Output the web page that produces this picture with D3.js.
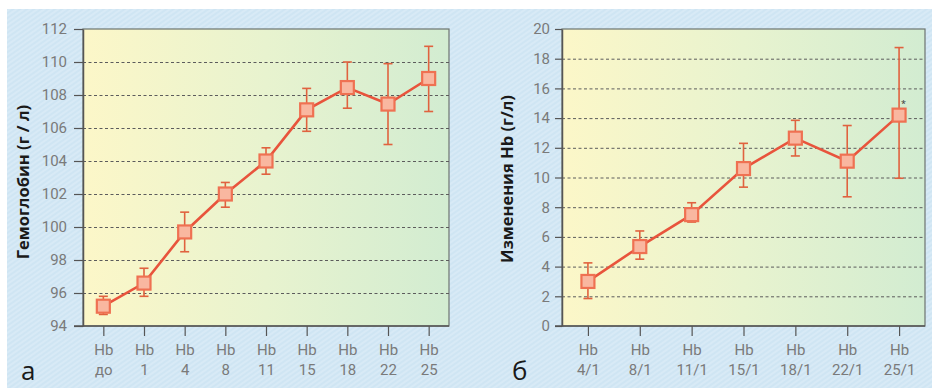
<!DOCTYPE html>
<html>
<head>
<meta charset="utf-8">
<script src="https://cdn.jsdelivr.net/npm/d3@7"></script>
<style>
  body { margin: 0; background: #fff; }
  svg { display: block; font-family: 'Open Sans', sans-serif; }
</style>
</head>
<body>
<div id="chart"></div>
<script>
// panel а: hemoglobin by day
const catsA = ['до', '1', '4', '8', '11', '15', '18', '22', '25']
const meanA = [95.2, 96.6, 99.7, 102.0, 104.0, 107.1, 108.45, 107.45, 109.0]
const lowA = [94.7, 95.8, 98.5, 101.2, 103.2, 105.8, 107.2, 105.0, 107.0]
const highA = [95.8, 97.5, 100.9, 102.7, 104.8, 108.4, 110.0, 109.9, 110.95]
const ticksA = [94, 96, 98, 100, 102, 104, 106, 108, 110, 112]

// panel б: change of Hb
const catsB = ['4/1', '8/1', '11/1', '15/1', '18/1', '22/1', '25/1']
const meanB = [3.0, 5.35, 7.5, 10.6, 12.65, 11.1, 14.2]
const lowB = [1.85, 4.5, 7.0, 9.35, 11.45, 8.7, 9.95]
const highB = [4.25, 6.4, 8.3, 12.3, 13.85, 13.5, 18.75]
const ticksB = [0, 2, 4, 6, 8, 10, 12, 14, 16, 18, 20]

const width = 932,
  height = 388

const tickFont = "'Liberation Sans Narrow', 'Roboto', sans-serif"

const svg = d3.select('#chart')
  .append('svg')
  .attr('width', width)
  .attr('height', height)

const defs = svg.append('defs')

const grad = defs.append('linearGradient')
  .attr('id', 'plotbg')
  .attr('x1', '0%').attr('x2', '100%')
  .attr('y1', '0%').attr('y2', '0%')
grad.append('stop').attr('offset', '0%').attr('stop-color', '#fcf7c8')
grad.append('stop').attr('offset', '50%').attr('stop-color', '#e8f3cf')
grad.append('stop').attr('offset', '100%').attr('stop-color', '#d2ecd1')

const hatch = defs.append('pattern')
  .attr('id', 'hatch')
  .attr('width', 4).attr('height', 4)
  .attr('patternUnits', 'userSpaceOnUse')
  .attr('patternTransform', 'rotate(-35)')
hatch.append('rect').attr('width', 4).attr('height', 4).attr('fill', '#cfe5f3')
hatch.append('line')
  .attr('x1', 0).attr('x2', 4).attr('y1', 1).attr('y2', 1)
  .attr('stroke', '#e2effa').attr('stroke-width', 1)

// blue page background
svg.append('rect')
  .attr('x', 7).attr('y', 9)
  .attr('width', width - 7).attr('height', height - 9)
  .attr('fill', 'url(#hatch)')

const lineColor = '#e8543c'

let drawPanel = (cfg) => {
  const g = svg.append('g')
  const x = d3.scalePoint()
    .domain(cfg.cats)
    .range([cfg.left, cfg.right])
    .padding(0.5)
  const y = d3.scaleLinear()
    .domain([cfg.ticks[0], cfg.ticks[cfg.ticks.length - 1]])
    .range([326, 29])

  g.append('rect')
    .attr('x', cfg.left).attr('y', 29)
    .attr('width', cfg.right - cfg.left).attr('height', 326 - 29)
    .attr('fill', 'url(#plotbg)')
    .attr('stroke', '#6d7470')
    .attr('stroke-width', 1.2)

  // dashed grid
  g.append('g')
    .attr('transform', `translate(${cfg.left},0)`)
    .call(d3.axisLeft(y).tickValues(cfg.ticks.slice(1, -1)).tickSize(-(cfg.right - cfg.left)).tickFormat(''))
    .call(s => s.select('.domain').remove())
    .selectAll('line')
    .attr('stroke', '#5c5c5c')
    .attr('stroke-width', 1)
    .attr('stroke-dasharray', '3,2.5')

  // y axis
  const ya = g.append('g')
    .attr('transform', `translate(${cfg.left},0)`)
    .call(d3.axisLeft(y).tickValues(cfg.ticks).tickSize(cfg.tick).tickPadding(cfg.pad).tickSizeOuter(0))
  ya.select('.domain').attr('stroke', '#555').attr('stroke-width', 1.5)
  ya.selectAll('line').attr('stroke', '#555').attr('stroke-width', 1.2)
  ya.selectAll('text')
    .attr('fill', '#7a7a7a')
    .style('font-size', '15px')
    .style('font-family', tickFont)

  // x axis
  const xa = g.append('g')
    .attr('transform', 'translate(0,326)')
    .call(d3.axisBottom(x).tickSize(10).tickFormat(''))
  xa.select('.domain')
    .attr('d', `M${cfg.left - cfg.tick},0H${cfg.right}`)
    .attr('stroke', '#555').attr('stroke-width', 1.5)
  xa.selectAll('line').attr('stroke', '#555').attr('stroke-width', 1.2)
  xa.selectAll('.tick').each(function (d) {
    const t = d3.select(this).append('text')
      .attr('fill', '#7a7a7a')
      .attr('text-anchor', 'middle')
      .style('font-size', '15px')
      .style('font-family', tickFont)
    t.append('tspan').attr('x', 0).attr('y', 29).text('Hb')
    t.append('tspan').attr('x', 0).attr('y', 49).text(d)
  })

  // axis title
  g.append('text')
    .attr('transform', `translate(${cfg.titleX},${cfg.titleY}) rotate(-90)`)
    .attr('text-anchor', 'middle')
    .attr('fill', '#1a1a1a')
    .style('font-size', '16.5px')
    .style('font-weight', 'bold')
    .text(cfg.title)

  // panel letter
  g.append('text')
    .attr('x', cfg.letterX).attr('y', 380)
    .attr('fill', '#1a1a1a')
    .style('font-size', '26px')
    .text(cfg.letter)

  const pts = cfg.cats.map((c, i) => ({ c, m: cfg.mean[i], lo: cfg.low[i], hi: cfg.high[i] }))

  // error bars
  const eb = g.append('g').selectAll('g')
    .data(pts)
    .enter()
    .append('g')
    .attr('stroke', '#e0623f')
    .attr('stroke-width', 1.6)
  eb.append('line')
    .attr('x1', d => x(d.c)).attr('x2', d => x(d.c))
    .attr('y1', d => y(d.lo)).attr('y2', d => y(d.hi))
  eb.append('line')
    .attr('x1', d => x(d.c) - 4.5).attr('x2', d => x(d.c) + 4.5)
    .attr('y1', d => y(d.lo)).attr('y2', d => y(d.lo))
  eb.append('line')
    .attr('x1', d => x(d.c) - 4.5).attr('x2', d => x(d.c) + 4.5)
    .attr('y1', d => y(d.hi)).attr('y2', d => y(d.hi))

  // mean line
  g.append('path')
    .datum(pts)
    .attr('fill', 'none')
    .attr('stroke', lineColor)
    .attr('stroke-width', 2.6)
    .attr('d', d3.line().x(d => x(d.c)).y(d => y(d.m)))

  // square markers
  g.append('g').selectAll('rect')
    .data(pts)
    .enter()
    .append('rect')
    .attr('x', d => x(d.c) - 6.5).attr('y', d => y(d.m) - 6.5)
    .attr('width', 13).attr('height', 13)
    .attr('fill', '#f9b7a0')
    .attr('stroke', '#ef7152')
    .attr('stroke-width', 2.2)

  return { x, y }
}

drawPanel({
  cats: catsA, mean: meanA, low: lowA, high: highA, ticks: ticksA,
  left: 83, right: 449, tick: 9, pad: 7,
  title: 'Гемоглобин (г / л)', titleX: 29, titleY: 182, letter: 'а', letterX: 21
})

const pb = drawPanel({
  cats: catsB, mean: meanB, low: lowB, high: highB, ticks: ticksB,
  left: 562, right: 925, tick: 7, pad: 5,
  title: 'Изменения Hb (г/л)', titleX: 513, titleY: 179, letter: 'б', letterX: 512
})

// small asterisk next to the last point
svg.append('text')
  .attr('x', pb.x('25/1') + 2)
  .attr('y', pb.y(meanB[6]) - 8)
  .attr('fill', '#333')
  .style('font-size', '9px')
  .text('*')
</script>
</body>
</html>
